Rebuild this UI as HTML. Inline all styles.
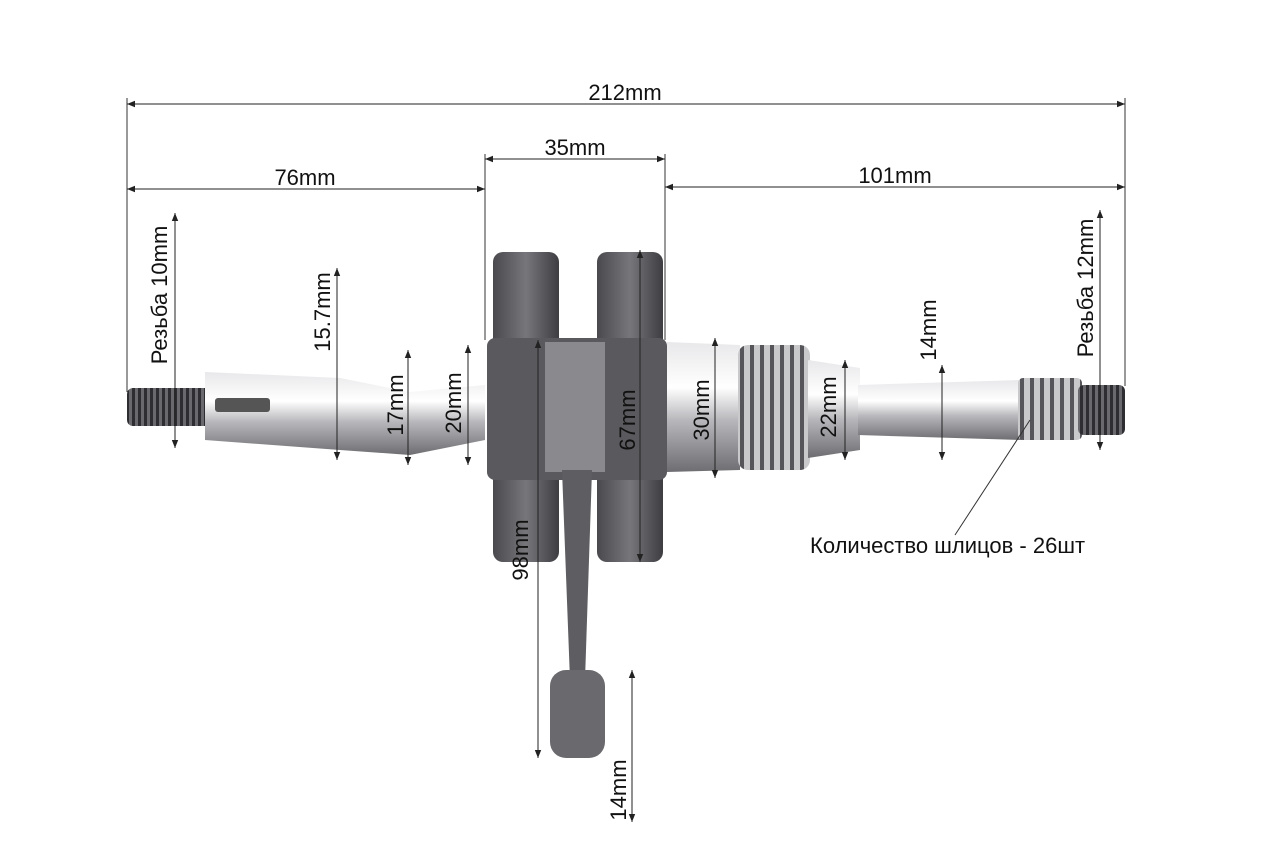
<!DOCTYPE html>
<html><head><meta charset="utf-8"><style>
html,body{margin:0;padding:0;background:#fff;}
svg{display:block}
text{font-family:"Liberation Sans",sans-serif;font-size:22px;fill:#111}
</style></head><body>
<svg width="1280" height="861" viewBox="0 0 1280 861" xmlns="http://www.w3.org/2000/svg">
<defs>
<linearGradient id="sh" x1="0" y1="0" x2="0" y2="1">
<stop offset="0" stop-color="#e8e8ea"/><stop offset="0.35" stop-color="#ffffff"/><stop offset="0.6" stop-color="#b8b8bc"/><stop offset="1" stop-color="#6e6e72"/></linearGradient>
<linearGradient id="dk" x1="0" y1="0" x2="1" y2="0">
<stop offset="0" stop-color="#4a4a4e"/><stop offset="0.5" stop-color="#77777b"/><stop offset="1" stop-color="#3e3e42"/></linearGradient>
<pattern id="thr" width="6" height="10" patternUnits="userSpaceOnUse"><rect width="6" height="10" fill="#6a6a6e"/><rect width="3" height="10" fill="#2e2e32"/></pattern>
<pattern id="thr2" width="10" height="10" patternUnits="userSpaceOnUse"><rect width="10" height="10" fill="#c9c9cc"/><rect width="4" height="10" fill="#55555a"/></pattern>
<marker id="a" viewBox="0 0 10 10" refX="10" refY="5" markerWidth="8" markerHeight="8" orient="auto-start-reverse"><path d="M0,1 L10,5 L0,9 z" fill="#222"/></marker>
</defs>
<!-- part -->
<rect x="127" y="388" width="85" height="38" rx="6" fill="url(#thr)"/>
<path d="M205,372 L340,378 L410,392 L485,385 L485,440 L410,455 L340,450 L205,440 Z" fill="url(#sh)"/>
<rect x="215" y="398" width="55" height="14" rx="3" fill="#555"/>
<rect x="493" y="252" width="66" height="310" rx="10" fill="url(#dk)"/>
<rect x="597" y="252" width="66" height="310" rx="10" fill="url(#dk)"/>
<rect x="487" y="338" width="180" height="142" rx="8" fill="#5a5a5e"/>
<rect x="545" y="342" width="60" height="130" fill="#8a8a8e"/>
<path d="M562,470 L592,470 L585,680 L570,680 Z" fill="#5e5e62"/>
<rect x="550" y="670" width="55" height="88" rx="16" fill="#6a6a6e"/>
<path d="M667,342 L740,345 L740,470 L667,472 Z" fill="url(#sh)"/>
<rect x="738" y="345" width="72" height="125" rx="10" fill="url(#thr2)"/>
<path d="M808,360 L860,368 L860,450 L808,458 Z" fill="url(#sh)"/>
<path d="M858,385 L1022,380 L1022,440 L858,435 Z" fill="url(#sh)"/>
<rect x="1018" y="378" width="64" height="62" rx="5" fill="url(#thr2)"/>
<rect x="1078" y="385" width="47" height="50" rx="6" fill="url(#thr)"/>
<!-- extension lines -->
<g stroke="#333" stroke-width="1" fill="none">
<line x1="127" y1="98" x2="127" y2="392"/>
<line x1="1125" y1="98" x2="1125" y2="386"/>
<line x1="485" y1="154" x2="485" y2="340"/>
<line x1="665" y1="154" x2="665" y2="340"/>
<line x1="1030" y1="420" x2="955" y2="535"/>
</g>
<g stroke="#222" stroke-width="1" fill="none" marker-start="url(#a)" marker-end="url(#a)">
<line x1="127" y1="104" x2="1125" y2="104"/>
<line x1="485" y1="159" x2="665" y2="159"/>
<line x1="127" y1="189" x2="485" y2="189"/>
<line x1="665" y1="187" x2="1125" y2="187"/>
<line x1="337" y1="268" x2="337" y2="460"/>
<line x1="408" y1="350" x2="408" y2="465"/>
<line x1="468" y1="345" x2="468" y2="465"/>
<line x1="640" y1="250" x2="640" y2="562"/>
<line x1="715" y1="338" x2="715" y2="478"/>
<line x1="845" y1="360" x2="845" y2="460"/>
<line x1="942" y1="365" x2="942" y2="460"/>
<line x1="538" y1="340" x2="538" y2="758"/>
<line x1="632" y1="670" x2="632" y2="822"/>
<line x1="175" y1="213" x2="175" y2="448"/>
<line x1="1100" y1="210" x2="1100" y2="450"/>
</g>
<text x="625" y="100" text-anchor="middle">212mm</text>
<text x="575" y="155" text-anchor="middle">35mm</text>
<text x="305" y="185" text-anchor="middle">76mm</text>
<text x="895" y="183" text-anchor="middle">101mm</text>
<g text-anchor="middle">
<text transform="translate(167,295) rotate(-90)">Резьба 10mm</text>
<text transform="translate(330,312) rotate(-90)">15.7mm</text>
<text transform="translate(403,405) rotate(-90)">17mm</text>
<text transform="translate(461,403) rotate(-90)">20mm</text>
<text transform="translate(635,420) rotate(-90)">67mm</text>
<text transform="translate(709,410) rotate(-90)">30mm</text>
<text transform="translate(836,407) rotate(-90)">22mm</text>
<text transform="translate(936,330) rotate(-90)">14mm</text>
<text transform="translate(1093,288) rotate(-90)">Резьба 12mm</text>
<text transform="translate(528,550) rotate(-90)">98mm</text>
<text transform="translate(626,790) rotate(-90)">14mm</text>
</g>
<text x="810" y="553">Количество шлицов - 26шт</text>
</svg>
</body></html>
